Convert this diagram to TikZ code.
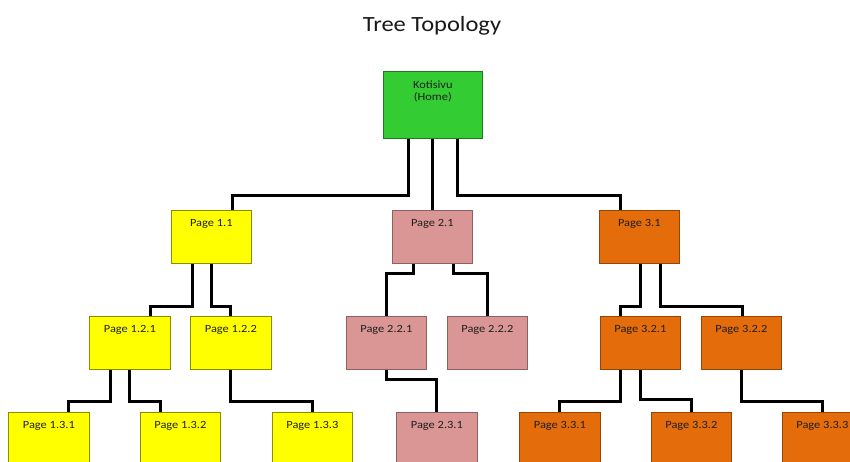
\documentclass[tikz,border=0pt]{standalone}
\usepackage{fontspec}
\setmainfont[FakeStretch=1.13]{Carlito}
\begin{document}
\begin{tikzpicture}[x=1pt,y=-1pt,
  boxbase/.style={rectangle, draw, line width=0.7pt, minimum width=80pt, minimum height=53pt, inner sep=0pt, anchor=north west},
  homebox/.style={boxbase, fill=cgreen, draw=cgreen!60!black, minimum width=99pt, minimum height=67pt},
  ybox/.style={boxbase, fill=cyellow, draw=cyellow!55!black},
  pbox/.style={boxbase, fill=cpink, draw=cpink!65!black},
  obox/.style={boxbase, fill=corange, draw=corange!65!black},
  lbl/.style={font=\fontsize{11}{13}\selectfont, text=black!88, anchor=base, inner sep=0pt},
  conn/.style={line width=3pt, draw=black}
]
\definecolor{cgreen}{RGB}{51,204,51}
\definecolor{cyellow}{RGB}{255,255,0}
\definecolor{cpink}{RGB}{217,150,148}
\definecolor{corange}{RGB}{228,108,10}
\useasboundingbox (0,0) rectangle (850,461);
\clip (0,0) rectangle (850,461);

\node[font=\fontsize{21.7}{24}\selectfont, text=black!90, anchor=base, inner sep=0pt] (title) at (432,31.7) {Tree Topology};

% boxes (top-left corners)
\node[homebox] (home) at (383,71) {};
\node[ybox] (p11) at (171,210) {};
\node[pbox] (p21) at (392,210) {};
\node[obox] (p31) at (599,210) {};
\node[ybox] (p121) at (89.5,316) {};
\node[ybox] (p122) at (190.5,316) {};
\node[pbox] (p221) at (346,316) {};
\node[pbox] (p222) at (447,316) {};
\node[obox] (p321) at (600,316) {};
\node[obox] (p322) at (701,316) {};
\node[ybox] (p131) at (8.5,412) {};
\node[ybox] (p132) at (140,412) {};
\node[ybox] (p133) at (272,412) {};
\node[pbox] (p231) at (396.5,412) {};
\node[obox] (p331) at (519.5,412) {};
\node[obox] (p332) at (651,412) {};
\node[obox] (p333) at (782,412) {};

% connectors
\draw[conn] ([xshift=-24.5pt]home.south) -- ++(0,57) -| ([xshift=21pt]p11.north);
\draw[conn] ([xshift=-0.5pt]home.south) -- (p21.north);
\draw[conn] ([xshift=24.5pt]home.south) -- ++(0,57) -| ([xshift=-19pt]p31.north);

\draw[conn] ([xshift=-19pt]p11.south) -- ++(0,43) -| ([xshift=20.5pt]p121.north);
\draw[conn] (p11.south) -- ++(0,43) -| (p122.north);
\draw[conn] ([xshift=-19pt]p21.south) -- ++(0,10) -| (p221.north);
\draw[conn] ([xshift=21pt]p21.south) -- ++(0,10) -| (p222.north);
\draw[conn] ([xshift=1pt]p31.south) -- ++(0,43) -| ([xshift=-20pt]p321.north);
\draw[conn] ([xshift=21pt]p31.south) -- ++(0,43) -| ([xshift=1pt]p322.north);

\draw[conn] ([xshift=-19.5pt]p121.south) -- ++(0,32) -| ([xshift=19.5pt]p131.north);
\draw[conn] (p121.south) -- ++(0,32) -| ([xshift=-20pt]p132.north);
\draw[conn] (p122.south) -- ++(0,32) -| (p133.north);
\draw[conn] (p221.south) -- ++(0,10) -| (p231.north);
\draw[conn] ([xshift=-20pt]p321.south) -- ++(0,32) -| (p331.north);
\draw[conn] (p321.south) -- ++(0,30) -| (p332.north);
\draw[conn] (p322.south) -- ++(0,32) -| (p333.north);

% redraw boxes on top
\foreach \n/\s in {home/homebox,p11/ybox,p21/pbox,p31/obox,p121/ybox,p122/ybox,p221/pbox,p222/pbox,p321/obox,p322/obox,p131/ybox,p132/ybox,p133/ybox,p231/pbox,p331/obox,p332/obox,p333/obox}{
  \path[\s] (\n.north west) rectangle (\n.south east);
}

% labels
\node[lbl] (thome1) at ([yshift=-17pt]home.north) {Kotisivu};
\node[lbl] (thome2) at ([yshift=-29.7pt]home.north) {(Home)};
\foreach \n/\t in {p11/Page 1.1,p21/Page 2.1,p31/Page 3.1,p121/Page 1.2.1,p122/Page 1.2.2,p221/Page 2.2.1,p222/Page 2.2.2,p321/Page 3.2.1,p322/Page 3.2.2,p131/Page 1.3.1,p132/Page 1.3.2,p133/Page 1.3.3,p231/Page 2.3.1,p331/Page 3.3.1,p332/Page 3.3.2,p333/Page 3.3.3}{
  \node[lbl] (t\n) at ([yshift=-16.5pt]\n.north) {\t};
}
\end{tikzpicture}
\end{document}
